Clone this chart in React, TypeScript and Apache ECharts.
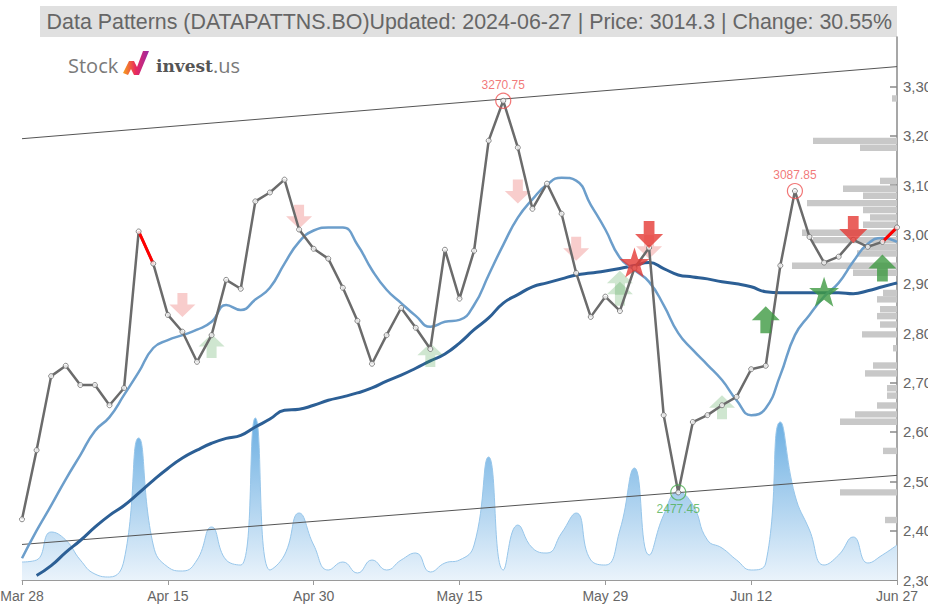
import React, { useEffect, useRef } from "react";
import * as echarts from "echarts";

const dates = [
  "Mar 28", "Apr 1", "Apr 2", "Apr 3", "Apr 4", "Apr 5", "Apr 8", "Apr 9", "Apr 10", "Apr 12",
  "Apr 15", "Apr 16", "Apr 18", "Apr 19", "Apr 22", "Apr 23", "Apr 24", "Apr 25", "Apr 26", "Apr 29",
  "Apr 30", "May 2", "May 3", "May 6", "May 7", "May 8", "May 9", "May 10", "May 13", "May 14",
  "May 15", "May 16", "May 17", "May 18", "May 21", "May 22", "May 23", "May 24", "May 27", "May 28",
  "May 29", "May 30", "May 31", "Jun 3", "Jun 4", "Jun 5", "Jun 6", "Jun 7", "Jun 10", "Jun 11",
  "Jun 12", "Jun 13", "Jun 14", "Jun 18", "Jun 19", "Jun 20", "Jun 21", "Jun 24", "Jun 25", "Jun 26",
  "Jun 27",
];

const closePrices = [
  2423, 2563, 2713, 2734, 2695, 2695, 2654, 2689, 3006, 2941,
  2837, 2803, 2742, 2796, 2908, 2890, 3067, 3085, 3111, 3010,
  2971, 2951, 2892, 2825, 2738, 2796, 2851, 2811, 2768, 2969,
  2870, 2967, 3190, 3270.75, 3176, 3052, 3103, 3042, 2922, 2833,
  2874, 2845, 2932, 2973, 2634, 2477.45, 2620, 2634, 2654, 2671,
  2727, 2734, 2937, 3087.85, 2995, 2943, 2955, 2989, 2975, 2985,
  3014.3,
];

const maShort = [
  2344, 2400, 2451, 2504, 2553, 2602, 2630, 2675, 2721, 2770,
  2786, 2796, 2807, 2823, 2857, 2847, 2868, 2892, 2941, 2985,
  3008, 3014, 3014, 2979, 2928, 2888, 2861, 2835, 2813, 2823,
  2827, 2857, 2918, 2979, 3034, 3071, 3101, 3115, 3109, 3060,
  3010, 2953, 2928, 2904, 2857, 2800, 2766, 2736, 2705, 2664,
  2634, 2648, 2715, 2796, 2837, 2874, 2902, 2945, 2981, 2993,
  2985,
];

const maLong = [
  null, 2309, 2329, 2356, 2380, 2407, 2431, 2451, 2476, 2502,
  2526, 2547, 2563, 2577, 2587, 2593, 2610, 2626, 2644, 2646,
  2654, 2664, 2671, 2679, 2689, 2703, 2715, 2729, 2744, 2758,
  2780, 2807, 2831, 2861, 2878, 2894, 2902, 2910, 2918, 2922,
  2926, 2931, 2937, 2943, 2931, 2918, 2914, 2910, 2904, 2900,
  2894, 2884, 2882, 2882, 2882, 2882, 2882, 2880, 2886, 2894,
  2902,
];

// volume in thousands of shares
const volumeK = [
  180, 200, 480, 400, 200, 60, 30, 200, 1420, 350,
  130, 90, 200, 530, 200, 150, 1620, 100, 250, 670,
  350, 100, 180, 70, 200, 100, 200, 270, 80, 170,
  200, 350, 1230, 100, 550, 320, 270, 470, 670, 200,
  150, 500, 1120, 250, 650, 880, 750, 400, 320, 200,
  100, 170, 1580, 850, 500, 150, 250, 430, 170, 250,
  350,
];

const highlightSegments = [[8, 9], [59, 60]];

const trendUpper = [[0, 3194], [60, 3340]];
const trendLower = [[0, 2372], [60, 2512]];

const profileBin = 14;
const profileLevels = [
  3268, 3182, 3168, 3101, 3085, 3071, 3056, 3042, 3027, 3012, 2996,
  2981, 2967, 2954, 2929, 2915, 2874, 2861, 2841, 2827, 2810, 2790,
  2762, 2727, 2711, 2681, 2666, 2646, 2628, 2613, 2554, 2470, 2414,
];
const profileVolume = [
  50, 840, 370, 170, 540, 340, 900, 340, 270, 340, 950,
  840, 340, 400, 1050, 440, 140, 200, 170, 200, 170, 350,
  40, 240, 320, 100, 100, 200, 420, 570, 140, 570, 120,
];

const bullFaint = [[13, 2774], [28, 2756], [41, 2902], [41, 2880], [48, 2650]];
const bearFaint = [[11, 2857], [19, 3036], [34, 3087], [38, 2971], [43, 2975]];
const bullStrong = [[51, 2827], [59, 2932]];
const bearStrong = [[43, 3000], [57, 3010]];
const bullStars = [[55, 2884]];
const bearStars = [[42, 2943]];
const highPoints = [[33, 3270.75], [53, 3087.85]];
const lowPoints = [[45, 2477.45]];

const companyName = "Data Patterns";
const ticker = "DATAPATTNS.BO";
const updated = "2024-06-27";
const lastPrice = 3014.3;
const changePct = 30.55;

const ARROW_UP = "path://M13,0 L26,14 L18,14 L18,27 L8,27 L8,14 L0,14 Z";
const ARROW_DOWN = "path://M8,0 L18,0 L18,13 L26,13 L13,27 L0,13 L8,13 Z";
const STAR =
  "path://M50,0 L61.8,35.1 L98.9,35.1 L69.1,57.3 L80.3,92.7 L50,71.2 L19.7,92.7 L30.9,57.3 L1.1,35.1 L38.2,35.1 Z";

const RED = "#e53935";
const GREEN = "#3e9a42";

export default function App() {
  const ref = useRef<HTMLDivElement>(null);

  useEffect(() => {
    document.body.style.margin = "0";
    if (!ref.current) return;
    const chart = echarts.init(ref.current, null, { renderer: "svg" });

    const redData: (number | null)[] = closePrices.map(() => null);
    highlightSegments.forEach(([a, b]) => {
      for (let i = a; i <= b; i++) redData[i] = closePrices[i];
    });

    const profileData = profileLevels.map((p, i) => [p, profileVolume[i]]);

    const option: any = {
      animation: false,
      backgroundColor: "#ffffff",
      grid: {
        left: 22,
        right: 31,
        top: 37,
        bottom: 28,
        containLabel: false,
        outerBoundsMode: "none",
      },
      xAxis: [
        {
          type: "category",
          data: dates,
          boundaryGap: false,
          axisLine: { show: true, lineStyle: { color: "#9a9a9a", width: 1 } },
          axisTick: { show: true, interval: 9, length: 5, lineStyle: { color: "#9a9a9a" } },
          axisLabel: {
            interval: 9,
            color: "#666",
            fontSize: 14,
            fontFamily: "Liberation Sans",
            margin: 9,
          },
          splitLine: { show: false },
        },
        {
          type: "value",
          position: "top",
          inverse: true,
          min: 0,
          max: 8750,
          show: false,
        },
      ],
      yAxis: [
        {
          type: "value",
          position: "right",
          min: 2300,
          max: 3400,
          interval: 100,
          axisLine: { show: true, lineStyle: { color: "#8a8a8a", width: 1.5 } },
          axisTick: { show: true, inside: true, length: 7, lineStyle: { color: "#8a8a8a", width: 1.5 } },
          axisLabel: {
            showMaxLabel: false,
            color: "#666",
            fontSize: 15,
            fontFamily: "Liberation Sans",
            margin: 6,
            formatter: (v: number) => v.toLocaleString("en-US"),
          },
          splitLine: { show: false },
        },
        {
          type: "value",
          min: 0,
          max: 5430,
          show: false,
        },
      ],
      graphic: [
        {
          type: "rect",
          shape: { x: 40, y: 6, width: 857, height: 31 },
          style: { fill: "#e0e0e0" },
          silent: true,
        },
        {
          type: "text",
          x: 892,
          y: 22,
          style: {
            text: `${companyName} (${ticker})Updated: ${updated} | Price: ${lastPrice} | Change: ${changePct}%`,
            fill: "#666",
            font: "21.4px 'Liberation Sans'",
            textAlign: "right",
            textVerticalAlign: "middle",
          },
        },
        {
          type: "text",
          x: 68,
          y: 65,
          style: {
            text: "Stock",
            fill: "#7a7a7a",
            font: "20px 'Open Sans'",
            textVerticalAlign: "middle",
          },
        },
        {
          type: "polygon",
          shape: {
            points: [
              [123, 73], [129, 61], [134, 61], [137, 67], [143, 51], [149, 51],
              [139, 75], [134, 75], [131, 69], [128, 75],
            ],
          },
          style: {
            fill: new echarts.graphic.LinearGradient(0, 0, 1, 0, [
              { offset: 0, color: "#f6a01a" },
              { offset: 0.5, color: "#e8285f" },
              { offset: 1, color: "#9b2aa6" },
            ]),
          },
        },
        {
          type: "text",
          x: 156,
          y: 66,
          style: {
            text: "invest",
            fill: "#555",
            font: "bold 17px 'DejaVu Serif'",
            textVerticalAlign: "middle",
          },
        },
        {
          type: "text",
          x: 213,
          y: 65,
          style: {
            text: ".us",
            fill: "#7a7a7a",
            font: "20px 'Open Sans'",
            textVerticalAlign: "middle",
          },
        },
      ],
      series: [
        {
          name: "profile",
          type: "custom",
          xAxisIndex: 1,
          yAxisIndex: 0,
          encode: { x: 1, y: 0 },
          data: profileData,
          silent: true,
          z: 1,
          renderItem: (params: any, api: any) => {
            const lo = api.value(0);
            const vol = api.value(1);
            const a = api.coord([0, lo]);
            const b = api.coord([vol, lo + profileBin]);
            return {
              type: "rect",
              shape: {
                x: Math.min(a[0], b[0]),
                y: b[1],
                width: Math.abs(a[0] - b[0]),
                height: Math.max(0, a[1] - b[1] - 0.5),
              },
              style: { fill: "#c8c8c8" },
            };
          },
        },
        {
          name: "volume",
          type: "line",
          yAxisIndex: 1,
          data: volumeK,
          smooth: true,
          showSymbol: false,
          z: 2,
          lineStyle: { color: "#97c6ea", width: 1 },
          areaStyle: {
            color: new echarts.graphic.LinearGradient(0, 0, 0, 1, [
              { offset: 0, color: "#6aaee2" },
              { offset: 1, color: "#eaf3fb" },
            ]),
            opacity: 1,
          },
        },
        {
          name: "trendUpper",
          type: "line",
          data: trendUpper,
          showSymbol: false,
          z: 3,
          lineStyle: { color: "#555", width: 1 },
        },
        {
          name: "trendLower",
          type: "line",
          data: trendLower,
          showSymbol: false,
          z: 3,
          lineStyle: { color: "#555", width: 1 },
        },
        {
          name: "maLong",
          type: "line",
          data: maLong,
          smooth: true,
          showSymbol: false,
          z: 4,
          lineStyle: { color: "#2c5f95", width: 3 },
        },
        {
          name: "maShort",
          type: "line",
          data: maShort,
          smooth: true,
          showSymbol: false,
          z: 4,
          lineStyle: { color: "#6c9ecb", width: 2.5 },
        },
        {
          name: "bullFaint",
          type: "scatter",
          data: bullFaint,
          symbol: ARROW_UP,
          symbolSize: [26, 24],
          z: 5,
          itemStyle: { color: GREEN, opacity: 0.25 },
        },
        {
          name: "bearFaint",
          type: "scatter",
          data: bearFaint,
          symbol: ARROW_DOWN,
          symbolSize: [26, 24],
          z: 5,
          itemStyle: { color: RED, opacity: 0.25 },
        },
        {
          name: "price",
          type: "line",
          data: closePrices,
          showSymbol: false,
          z: 6,
          lineStyle: { color: "#6b6b6b", width: 2.5 },
        },
        {
          name: "highlight",
          type: "line",
          data: redData,
          showSymbol: false,
          connectNulls: false,
          z: 7,
          lineStyle: { color: "#ff0000", width: 3 },
        },
        {
          name: "priceMarkers",
          type: "scatter",
          data: closePrices,
          symbol: "circle",
          symbolSize: 5,
          z: 8,
          itemStyle: { color: "#ffffff", borderColor: "#6b6b6b", borderWidth: 1 },
        },
        {
          name: "highs",
          type: "scatter",
          data: highPoints,
          symbol: "circle",
          symbolSize: 15,
          z: 9,
          itemStyle: { color: "rgba(0,0,0,0)", borderColor: "#ee5555", borderWidth: 1.2 },
          label: {
            show: true,
            position: "top",
            distance: 2,
            color: "#ee5555",
            fontSize: 12,
            fontFamily: "Liberation Sans",
            formatter: (p: any) => String(p.value[1]),
          },
        },
        {
          name: "lows",
          type: "scatter",
          data: lowPoints,
          symbol: "circle",
          symbolSize: 15,
          z: 9,
          itemStyle: { color: "rgba(0,0,0,0)", borderColor: "#4caf50", borderWidth: 1.2 },
          label: {
            show: true,
            position: "bottom",
            distance: 2,
            color: "#4caf50",
            fontSize: 12,
            fontFamily: "Liberation Sans",
            formatter: (p: any) => String(p.value[1]),
          },
        },
        {
          name: "bearStars",
          type: "scatter",
          data: bearStars,
          symbol: STAR,
          symbolSize: 30,
          z: 10,
          itemStyle: { color: RED },
        },
        {
          name: "bullStars",
          type: "scatter",
          data: bullStars,
          symbol: STAR,
          symbolSize: 30,
          z: 10,
          itemStyle: { color: GREEN },
        },
        {
          name: "bullStrong",
          type: "scatter",
          data: bullStrong,
          symbol: ARROW_UP,
          symbolSize: [28, 27],
          z: 10,
          itemStyle: { color: GREEN },
        },
        {
          name: "bearStrong",
          type: "scatter",
          data: bearStrong,
          symbol: ARROW_DOWN,
          symbolSize: [28, 27],
          z: 10,
          itemStyle: { color: RED },
        },
      ],
    };

    chart.setOption(option);
    return () => chart.dispose();
  }, []);

  return <div ref={ref} style={{ width: 928, height: 608 }} />;
}
